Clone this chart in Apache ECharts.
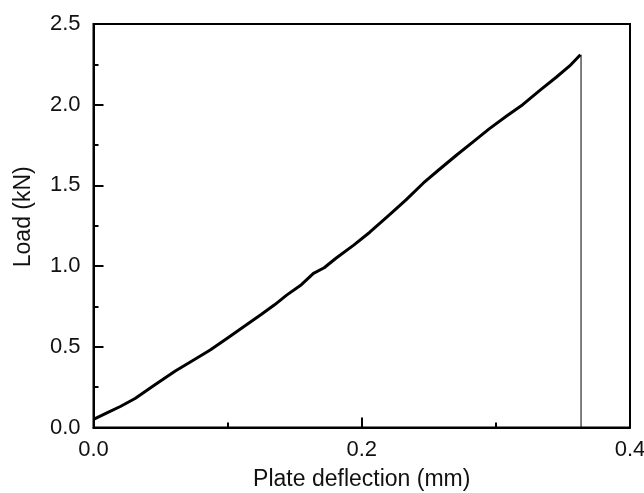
<!DOCTYPE html>
<html>
<head>
<meta charset="utf-8">
<script src="https://cdn.jsdelivr.net/npm/echarts@6/dist/echarts.min.js"></script>
<style>html,body{margin:0;padding:0;background:#fff;}#c{width:644px;height:493px;}</style>
</head>
<body>
<div id="c"></div>
<script>
const deflection = [0, 0.01, 0.02, 0.031, 0.045, 0.061, 0.075, 0.087, 0.1, 0.113, 0.125, 0.135, 0.144, 0.155, 0.164, 0.172, 0.181, 0.194, 0.206, 0.221, 0.233, 0.246, 0.258, 0.271, 0.283, 0.295, 0.308, 0.320, 0.333, 0.345, 0.355, 0.363];
const load = [0.05, 0.09, 0.13, 0.18, 0.26, 0.35, 0.42, 0.48, 0.555, 0.63, 0.70, 0.76, 0.82, 0.885, 0.955, 0.99, 1.05, 1.13, 1.21, 1.32, 1.41, 1.515, 1.60, 1.69, 1.77, 1.85, 1.93, 2.00, 2.09, 2.17, 2.24, 2.31];
const dropX = [0.3635, 0.3635];
const dropY = [2.31, 0];

const font = 'Liberation Sans, Arial, sans-serif';
const chart = echarts.init(document.getElementById('c'));
chart.setOption({
  animation: false,
  backgroundColor: '#fff',
  grid: { left: 93.5, right: 14, top: 24, bottom: 65.5, outerBoundsMode: 'none', containLabel: false, show: true, borderColor: '#000', borderWidth: 2 },
  xAxis: {
    type: 'value', min: 0, max: 0.4, interval: 0.2,
    name: 'Plate deflection (mm)', nameLocation: 'middle', nameGap: 41,
    nameTextStyle: { fontFamily: font, fontSize: 23, color: '#111' },
    axisLine: { show: true, lineStyle: { color: '#000', width: 2 } },
    axisTick: { show: true, inside: true, length: 10, lineStyle: { color: '#000', width: 2 } },
    minorTick: { show: true, splitNumber: 2, length: 5, lineStyle: { color: '#000', width: 2 } },
    splitLine: { show: false },
    axisLabel: { fontFamily: font, fontSize: 22, color: '#111', margin: 11, formatter: v => v.toFixed(1) }
  },
  yAxis: {
    type: 'value', min: 0, max: 2.5, interval: 0.5,
    name: 'Load (kN)', nameLocation: 'middle', nameGap: 58,
    nameTextStyle: { fontFamily: font, fontSize: 23, color: '#111', padding: [0, 0, 0, 18] },
    axisLine: { show: true, lineStyle: { color: '#000', width: 2 } },
    axisTick: { show: true, inside: true, length: 10, lineStyle: { color: '#000', width: 2 } },
    minorTick: { show: true, splitNumber: 2, length: 5, lineStyle: { color: '#000', width: 2 } },
    splitLine: { show: false },
    axisLabel: { fontFamily: font, fontSize: 22, color: '#111', margin: 13, formatter: v => v.toFixed(1) }
  },
  series: [
    {
      type: 'line', showSymbol: false, symbol: 'none',
      data: deflection.map((x, i) => [x, load[i]]),
      lineStyle: { color: '#000', width: 3 }
    },
    {
      type: 'line', showSymbol: false, symbol: 'none',
      data: dropX.map((x, i) => [x, dropY[i]]),
      lineStyle: { color: '#000', width: 1 }
    }
  ]
});
</script>
</body>
</html>
